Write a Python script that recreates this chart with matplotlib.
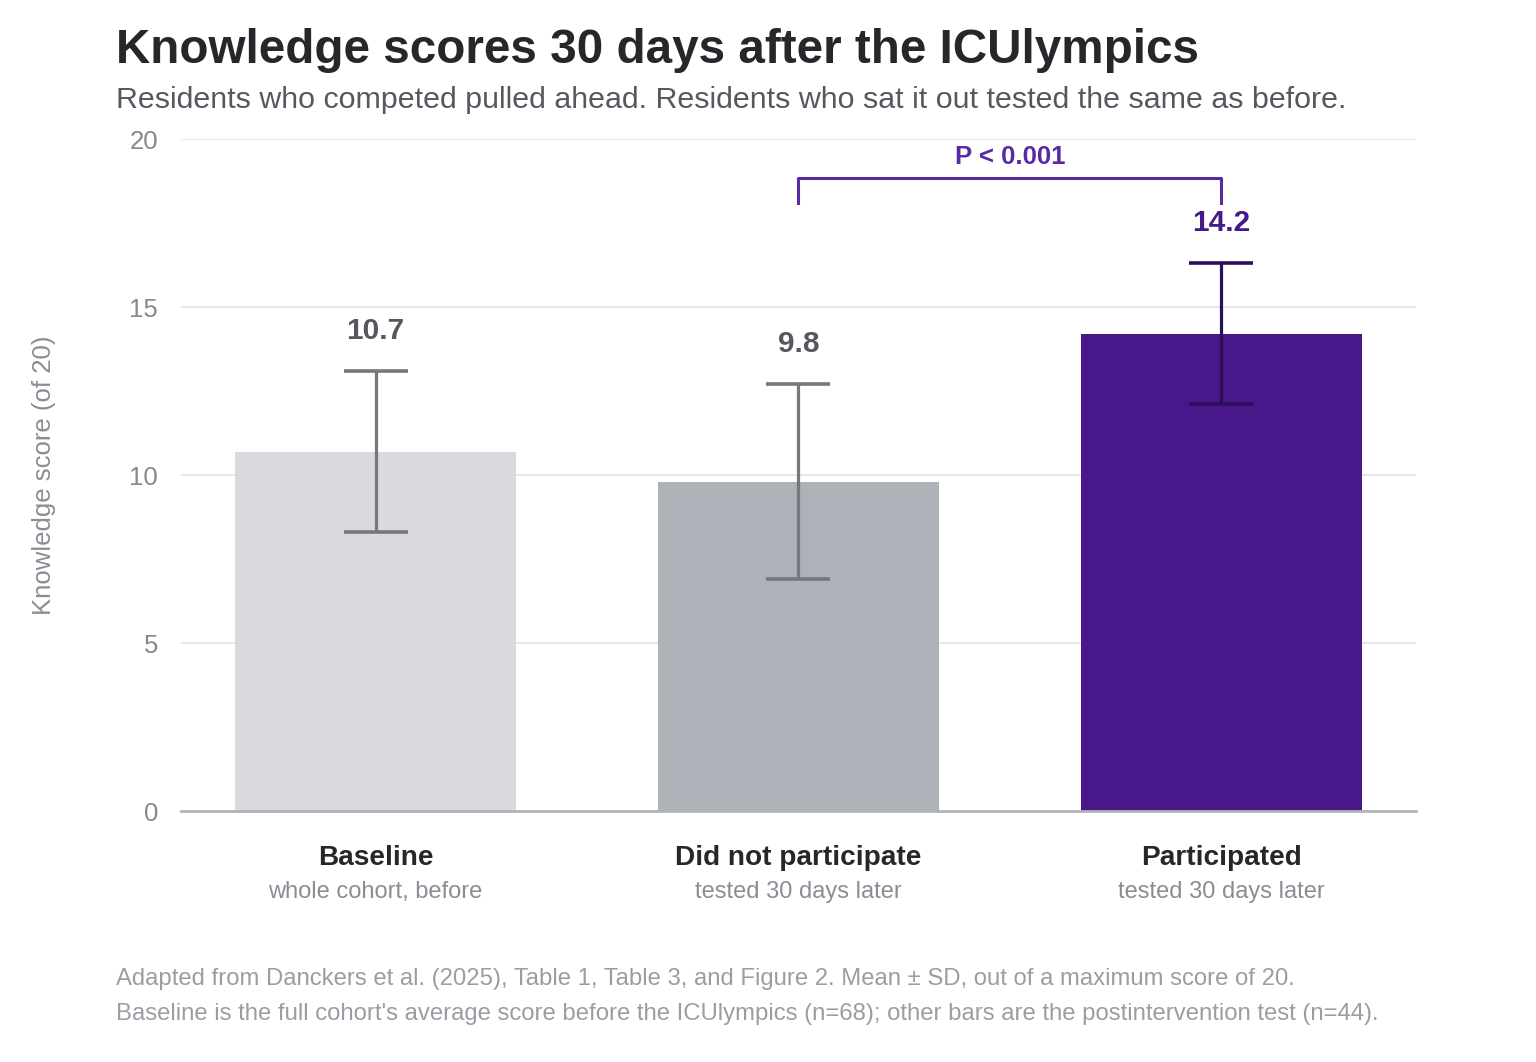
import matplotlib
matplotlib.use("Agg")
import matplotlib.pyplot as plt

plt.rcParams["font.family"] = ["Liberation Sans", "DejaVu Sans"]

# data (mean +/- SD, out of 20)
groups = ["Baseline", "Did not participate", "Participated"]
subtitles = ["whole cohort, before", "tested 30 days later", "tested 30 days later"]
means = [10.7, 9.8, 14.2]
sds = [2.4, 2.9, 2.1]
y_ticks = [0, 5, 10, 15, 20]
p_label = "P < 0.001"

bar_colors = ["#d9dadd", "#adb1b8", "#48188a"]
err_colors = ["#76787e", "#76787e", "#2d0e5a"]
val_colors = ["#55585f", "#55585f", "#48188a"]
purple = "#5a2aa5"

fig = plt.figure(figsize=(15.36, 10.62), dpi=100)
ax = fig.add_axes([0.1178, 0.2363, 0.8041, 0.6328])

xs = list(range(len(groups)))
ax.bar(xs, means, width=0.664, color=bar_colors, zorder=2)
for x, m, s, ec in zip(xs, means, sds, err_colors):
    ax.errorbar(x, m, yerr=s, color=ec, elinewidth=2.3, capsize=23, capthick=2.6, zorder=3)

for x, m, s, vc in zip(xs, means, sds, val_colors):
    ax.annotate(f"{m:.1f}", (x, m + s), xytext=(0, 29), textcoords="offset points",
                ha="center", va="center", fontsize=21.5, fontweight="bold", color=vc)

# significance bracket between the two post-test groups
ax.plot([1, 1, 2, 2], [18.1, 18.84, 18.84, 18.1], color=purple, lw=2.2, clip_on=False, zorder=3)
ax.text(1.5, 19.46, p_label, ha="center", va="center", fontsize=18.5, fontweight="bold", color=purple)

ax.set_xlim(-0.46, 2.46)
ax.set_ylim(0, 20)
ax.set_yticks(y_ticks)
ax.tick_params(axis="y", length=0, pad=16.5, labelsize=18.5, labelcolor="#85888e")
ax.set_xticks([])
ax.grid(axis="y", color="#e4e4e6", lw=1.3, zorder=0)
ax.set_axisbelow(True)
for side in ["top", "right", "left"]:
    ax.spines[side].set_visible(False)
ax.spines["bottom"].set_color("#b0b3b8")
ax.spines["bottom"].set_linewidth(2)
ax.spines["bottom"].set_zorder(4)

ax.set_ylabel("Knowledge score (of 20)", fontsize=18.5, color="#8a8d93")
ax.yaxis.set_label_coords(-0.1013, 0.5)

for x, g, sub in zip(xs, groups, subtitles):
    ax.text(x, -0.0695, g, transform=ax.get_xaxis_transform(), ha="center", va="center",
            fontsize=20.2, fontweight="bold", color="#26272b")
    ax.text(x, -0.1206, sub, transform=ax.get_xaxis_transform(), ha="center", va="center",
            fontsize=17, color="#8a8d93")

fig.text(0.0755, 0.9407, "Knowledge scores 30 days after the ICUlympics", ha="left", va="baseline",
         fontsize=34.3, fontweight="bold", color="#26272b")
fig.text(0.0755, 0.8985, "Residents who competed pulled ahead. Residents who sat it out tested the same as before.",
         ha="left", va="baseline", fontsize=21.9, color="#55585f")

fig.text(0.0755, 0.078, "Adapted from Danckers et al. (2025), Table 1, Table 3, and Figure 2. Mean \u00b1 SD, out of a maximum score of 20.",
         ha="left", va="center", fontsize=17.2, color="#9a9da3")
fig.text(0.0755, 0.045, "Baseline is the full cohort's average score before the ICUlympics (n=68); other bars are the postintervention test (n=44).",
         ha="left", va="center", fontsize=17.2, color="#9a9da3")

fig.savefig("out.png", dpi=100, facecolor="white")
